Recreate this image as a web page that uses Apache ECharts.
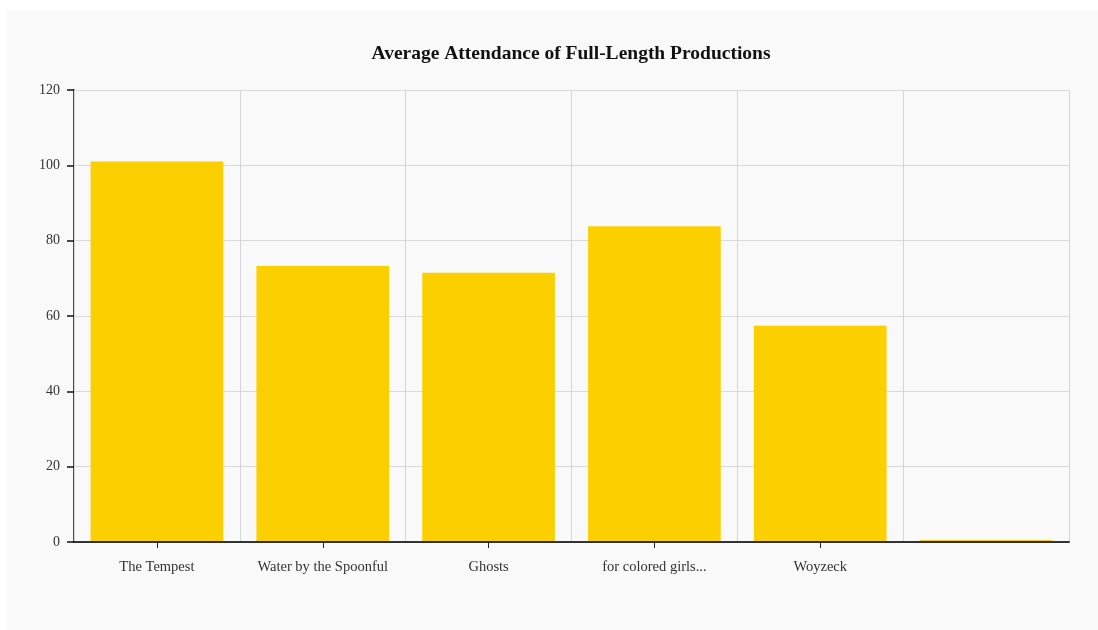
<!DOCTYPE html>
<html>
<head>
<meta charset="utf-8">
<script src="https://cdn.jsdelivr.net/npm/echarts@6/dist/echarts.min.js"></script>
<style>
  html, body { margin: 0; padding: 0; background: #ffffff; }
  #chart { position: absolute; left: 7px; top: 10px; width: 1091px; height: 620px; background: #f9f9f9; }
</style>
</head>
<body>
<div id="chart"></div>
<script>
// Productions and their average attendance
const productions = ['The Tempest', 'Water by the Spoonful', 'Ghosts', 'for colored girls...', 'Woyzeck', ''];
const attendance = [101, 73.3, 71.5, 83.8, 57.4, 0.5];
const yTicks = { min: 0, max: 120, interval: 20 };

const serif = '"Liberation Serif", "Times New Roman", serif';
const chart = echarts.init(document.getElementById('chart'), null, { renderer: 'canvas' });

chart.setOption({
  backgroundColor: '#f9f9f9',
  animation: false,
  title: {
    text: 'Average Attendance of Full-Length Productions',
    left: 559,
    top: 29,
    textAlign: 'center',
    textStyle: { fontFamily: serif, fontSize: 19.5, fontWeight: 'bold', color: '#111' }
  },
  grid: { left: 67, right: 29, top: 80, bottom: 88, containLabel: false },
  xAxis: {
    type: 'category',
    data: productions,
    z: 3,
    axisLine: { show: true, lineStyle: { color: 'rgba(0,0,0,0.78)', width: 2 } },
    axisTick: {
      show: true,
      alignWithLabel: true,
      length: 6,
      interval: (idx) => productions[idx] !== '',
      lineStyle: { color: '#222', width: 1 }
    },
    axisLabel: { fontFamily: serif, fontSize: 14.5, color: '#333', margin: 18, interval: 0 },
    splitLine: { show: true, lineStyle: { color: '#d6d6d6', width: 1 } }
  },
  yAxis: {
    type: 'value',
    min: yTicks.min,
    max: yTicks.max,
    interval: yTicks.interval,
    axisLine: { show: true, lineStyle: { color: '#111', width: 1.5 } },
    axisTick: { show: true, length: 7, lineStyle: { color: '#111', width: 1.5 } },
    axisLabel: { fontFamily: serif, fontSize: 14, color: '#333', margin: 14 },
    splitLine: { show: true, lineStyle: { color: '#d9d9d9', width: 1 } }
  },
  series: [{
    type: 'bar',
    data: attendance,
    barCategoryGap: '20%',
    itemStyle: { color: '#fbcf00' }
  }]
});
</script>
</body>
</html>
